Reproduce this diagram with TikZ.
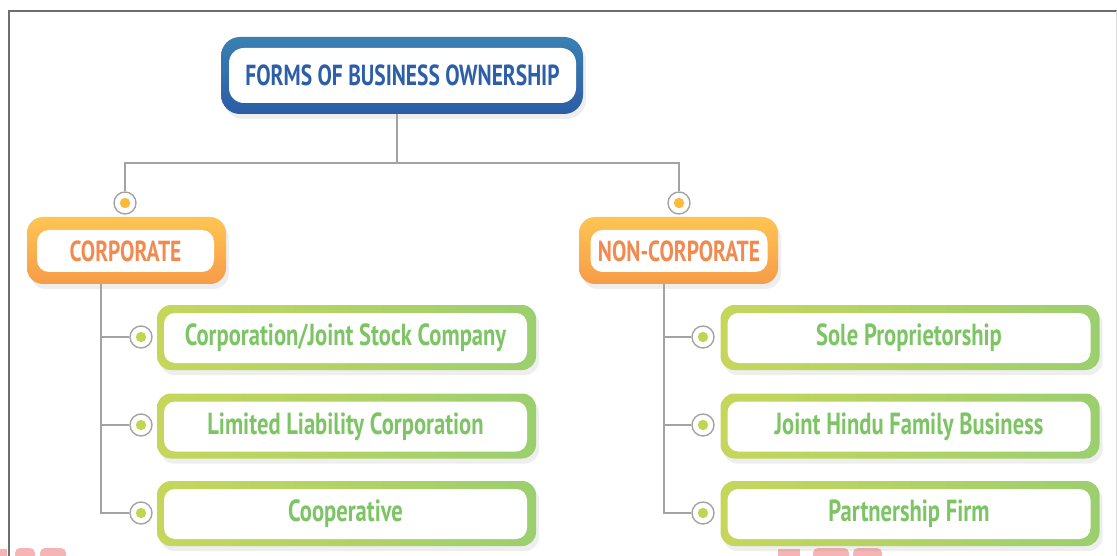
\documentclass[tikz,border=0pt]{standalone}
\usepackage{fontspec}
\setmainfont{PT Sans}[FakeStretch=0.74]
\usetikzlibrary{shadows,calc}
\definecolor{blueA}{HTML}{3A80B2}
\definecolor{blueB}{HTML}{2C5DA6}
\definecolor{blueT}{HTML}{2D5EA8}
\definecolor{orA}{HTML}{FEC553}
\definecolor{orB}{HTML}{F79B48}
\definecolor{orT}{HTML}{F28A50}
\definecolor{grA}{HTML}{C6D65B}
\definecolor{grB}{HTML}{9BCF6E}
\definecolor{grT}{HTML}{7CC464}
\definecolor{lineC}{HTML}{A3A3A3}
\definecolor{dotG}{HTML}{C2D552}
\definecolor{dotO}{HTML}{FDB93B}
\definecolor{frameC}{HTML}{6E6E6E}
\definecolor{markC}{HTML}{F6B4B4}
\tikzset{
  boxshadow/.style={drop shadow={opacity=0.13, shadow xshift=3pt, shadow yshift=-5pt}},
  bluebox/.style={rectangle, rounded corners=19pt, minimum width=362pt, minimum height=77pt, top color=blueA, bottom color=blueB, draw=none, boxshadow},
  orbox/.style={rectangle, rounded corners=16pt, minimum width=199pt, minimum height=67pt, top color=orA, bottom color=orB, draw=none, boxshadow},
  grbox/.style={rectangle, rounded corners=14pt, minimum width=379pt, minimum height=65pt, left color=grA, right color=grB, draw=none, boxshadow},
  inner/.style={rectangle, fill=white, draw=none, font=\bfseries},
  topin/.style={inner, rounded corners=15pt, minimum width=347pt, minimum height=55pt, text=blueT, font=\bfseries\fontsize{29}{32}\selectfont},
  orin/.style={inner, rounded corners=12pt, minimum width=177pt, minimum height=42pt, text=orT, font=\bfseries\fontsize{29}{32}\selectfont},
  grin/.style={inner, rounded corners=11pt, minimum width=363pt, minimum height=50pt, text=grT, font=\bfseries\fontsize{30.5}{33}\selectfont},
  ring/.style={circle, draw=lineC, line width=1.4pt, fill=white, minimum size=22pt, inner sep=0pt},
  conn/.style={draw=lineC, line width=1.4pt},
}
\begin{document}
\begin{tikzpicture}[x=1pt,y=-1pt]
\useasboundingbox (0,0) rectangle (1117,556);
\fill[white] (0,0) rectangle (1117,556);
% frame
\draw[frameC, line width=2pt] (9,556) -- (9,11) -- (1117,11);
\draw[black!15, line width=0.8pt] (1116,11) -- (1116,556);
% faint marks at bottom edge
\fill[markC] (0,549) rectangle (7,556);
\fill[markC, rounded corners=5pt] (40,548) -- (66,548) -- (66,560) -- (40,560) -- cycle;
\fill[markC, rounded corners=5pt] (15,548) -- (35,548) -- (35,560) -- (15,560) -- cycle;
\fill[markC] (778,549) rectangle (800,556);
\fill[markC, rounded corners=5pt] (813,548) -- (849,548) -- (849,560) -- (813,560) -- cycle;
\fill[markC, rounded corners=5pt] (853,548) -- (882,548) -- (882,560) -- (853,560) -- cycle;

% top box
\node[bluebox] (top) at (402,75.5) {};
\node[topin] (topi) at (402.5,75.5) {FORMS OF BUSINESS OWNERSHIP};

% junctions
\coordinate (j) at (397,163);
\node[ring] (cL) at (125,203) {};
\node[ring] (cR) at (679,203) {};
\draw[conn] (top.south -| j) -- (j);
\draw[conn] (cL.north) |- (j) -| (cR.north);
\fill[dotO] (cL) circle (5.2);
\fill[dotO] (cR) circle (5.2);

% category boxes
\node[orbox] (corp) at (126.5,250.5) {};
\node[orin] (corpi) at (125.5,251) {CORPORATE};
\node[orbox] (ncorp) at (678.5,250.5) {};
\node[orin] (ncorpi) at (679,251) {NON-CORPORATE};

% left column
\coordinate (lv) at (101,513);
\node[ring] (l1) at (141,337) {};
\node[ring] (l2) at (141,425) {};
\node[ring] (l3) at (141,513) {};
\draw[conn] (corp.south -| lv) -- (lv) -- (l3.west);
\draw[conn] (l1.west) -- (l1.west -| lv);
\draw[conn] (l2.west) -- (l2.west -| lv);
\foreach \n in {l1,l2,l3} \fill[dotG] (\n) circle (5.2);

\node[grbox] (a1) at (346.5,337.5) {};
\node[grin] (a1i) at (345.5,338) {Corporation/Joint Stock Company};
\node[grbox] (a2) at (346.5,426) {};
\node[grin] (a2i) at (345.5,426.5) {Limited Liability Corporation};
\node[grbox] (a3) at (346.5,513.5) {};
\node[grin] (a3i) at (345.5,514) {Cooperative};

% right column
\coordinate (rv) at (664,513);
\node[ring] (r1) at (703,337) {};
\node[ring] (r2) at (703,425) {};
\node[ring] (r3) at (703,513) {};
\draw[conn] (ncorp.south -| rv) -- (rv) -- (r3.west);
\draw[conn] (r1.west) -- (r1.west -| rv);
\draw[conn] (r2.west) -- (r2.west -| rv);
\foreach \n in {r1,r2,r3} \fill[dotG] (\n) circle (5.2);

\node[grbox] (b1) at (910,337.5) {};
\node[grin] (b1i) at (909,338) {Sole Proprietorship};
\node[grbox] (b2) at (910,426) {};
\node[grin] (b2i) at (909,426.5) {Joint Hindu Family Business};
\node[grbox] (b3) at (910,513.5) {};
\node[grin] (b3i) at (909,514) {Partnership Firm};
\end{tikzpicture}
\end{document}
